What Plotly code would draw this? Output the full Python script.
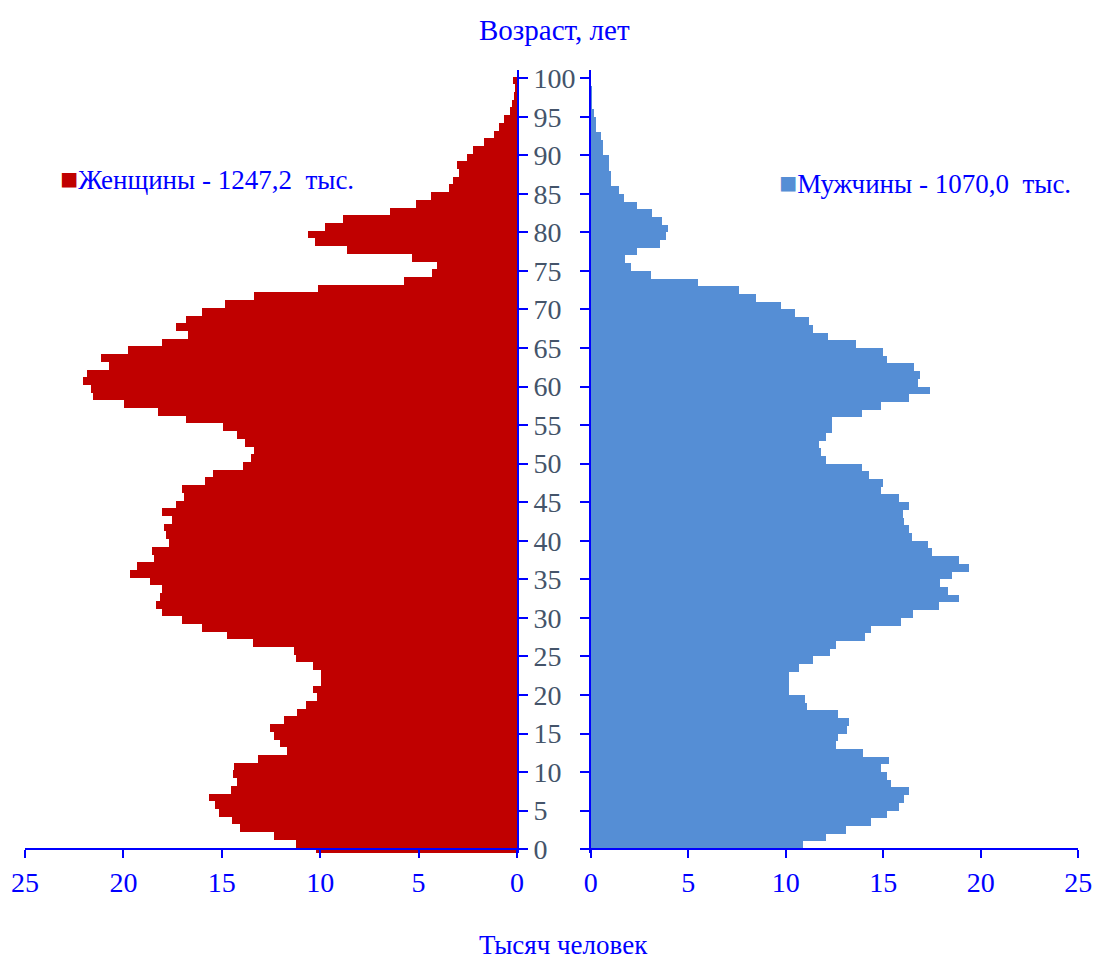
import plotly.graph_objects as go

ages = list(range(0, 101))

women = [10.23, 11.25, 12.36, 14.06, 14.47, 15.14, 15.35, 15.65, 14.55, 14.24,
         14.45, 14.36, 13.14, 11.67, 12.04, 12.36, 12.55, 11.84, 11.16, 10.74,
         10.15, 10.35, 9.96, 9.98, 10.35, 11.25, 11.33, 13.43, 14.75, 16.02,
         17.04, 18.06, 18.34, 18.14, 18.06, 18.63, 19.65, 19.33, 18.45, 18.53,
         17.67, 17.84, 17.94, 17.53, 18.04, 17.34, 16.94, 17.04, 15.84, 15.43,
         13.94, 13.53, 13.35, 13.84, 14.23, 14.96, 16.84, 18.22, 19.95, 21.53,
         21.65, 22.04, 21.83, 20.73, 21.14, 19.75, 18.04, 16.73, 17.34, 16.84,
         16.02, 14.84, 13.35, 10.13, 5.74, 4.34, 4.05, 5.34, 8.64, 10.25,
         10.64, 9.74, 8.82, 6.45, 5.13, 4.37, 3.44, 3.24, 2.95, 3.03,
         2.52, 2.25, 1.66, 1.15, 0.93, 0.64, 0.36, 0.24, 0.15, 0.10, 0.22]

men = [10.87, 12.07, 13.09, 14.37, 15.18, 15.79, 16.08, 16.31, 15.40, 15.18,
       14.89, 15.28, 13.98, 12.58, 12.67, 13.16, 13.26, 12.70, 11.08, 10.99,
       10.19, 10.19, 10.19, 10.68, 11.38, 12.27, 12.58, 14.08, 14.37, 15.90,
       16.51, 17.88, 18.89, 18.31, 17.91, 18.51, 19.40, 18.87, 17.50, 17.28,
       16.48, 16.31, 16.08, 16.00, 16.31, 15.79, 14.89, 14.97, 14.27, 13.90,
       12.07, 11.79, 11.69, 12.07, 12.37, 12.39, 13.90, 14.89, 16.31, 17.40,
       16.80, 16.89, 16.60, 15.18, 15.01, 13.59, 12.19, 11.38, 11.18, 10.49,
       9.78, 8.48, 7.59, 5.49, 3.08, 2.07, 1.76, 2.36, 3.55, 3.86,
       3.95, 3.66, 3.16, 2.36, 1.73, 1.45, 1.02, 1.02, 0.96, 0.96,
       0.65, 0.65, 0.53, 0.27, 0.27, 0.17, 0.07, 0.07, 0.05, 0.03, 0.02]

x_ticks = [0, 5, 10, 15, 20, 25]
y_ticks = list(range(0, 101, 5))

women_label = "Женщины - 1247,2\u00a0 тыс."
men_label = "Мужчины - 1070,0\u00a0 тыс."
y_title = "Возраст, лет"
x_title = "Тысяч человек"

RED = "#C00000"
BLUE_BAR = "#558ED5"
AXIS = "#0000FF"
YLAB = "#44546A"
FONT = "Liberation Serif"

OFF = 0  # body margin removed via post_script
W, H = 1096, 961


def fx(p):
    return (p - OFF) / W


fig = go.Figure()
fig.add_trace(go.Bar(x=women, y=ages, orientation="h", width=1, offset=-0.79,
                     marker=dict(color=RED, line=dict(width=0)),
                     xaxis="x", yaxis="y", name=women_label, showlegend=False))
fig.add_trace(go.Bar(x=men, y=ages, orientation="h", width=1, offset=0,
                     marker=dict(color=BLUE_BAR, line=dict(width=0)),
                     xaxis="x2", yaxis="y2", name=men_label, showlegend=False))

top_pg, bottom_pg = 70, 853
top, bottom_px = top_pg - OFF, bottom_pg - OFF
ppu = 7.71
y0 = -0.5
y1 = y0 + (bottom_px - top) / ppu
axis_pos = 0.5 / (y1 - y0)

xcommon = dict(tickvals=x_ticks, ticks="outside", ticklen=8, tickwidth=2,
               tickcolor=AXIS, showline=True, linecolor=AXIS, linewidth=2,
               showgrid=False, zeroline=False, fixedrange=True, automargin=False,
               ticklabelstandoff=0,
               tickfont=dict(family=FONT, size=28, color=AXIS),
               anchor="free", position=axis_pos)

fig.update_layout(
    width=W, height=H,
    margin=dict(l=0, r=0, t=top, b=H - bottom_px, autoexpand=False),
    paper_bgcolor="white", plot_bgcolor="white",
    bargap=0,
    xaxis=dict(domain=[fx(25), fx(517)], range=[25, 0], **xcommon),
    xaxis2=dict(domain=[fx(590.7), fx(1078.3)], range=[0, 25], **xcommon),
    yaxis=dict(range=[y0, y1], anchor="x", side="right", tickvals=y_ticks,
               ticks="outside", ticklen=9, tickwidth=2, tickcolor=AXIS,
               showline=True, linecolor=AXIS, linewidth=2, showgrid=False,
               zeroline=False, ticklabelstandoff=0, automargin=False,
               tickfont=dict(family=FONT, size=28, color=YLAB)),
    yaxis2=dict(matches="y", anchor="x2", side="left", tickvals=y_ticks,
                ticks="outside", ticklen=9, tickwidth=2, tickcolor=AXIS,
                showline=True, linecolor=AXIS, linewidth=2, showgrid=False,
                zeroline=False, showticklabels=False, automargin=False),
    showlegend=False,
)


def py(pg):
    return (bottom_px - (pg - OFF)) / (bottom_px - top)


ann = dict(xref="paper", yref="paper", showarrow=False, yanchor="middle")
fig.add_annotation(text=y_title, x=fx(554), y=py(30), xanchor="center",
                   font=dict(family=FONT, size=29, color=AXIS), **ann)
fig.add_annotation(text=x_title, x=fx(563), y=py(945), xanchor="center",
                   font=dict(family=FONT, size=27, color=AXIS), **ann)
fig.add_annotation(text=f'<span style="color:{RED};font-size:30px">■</span>' + women_label,
                   x=fx(58), y=py(178), xanchor="left",
                   font=dict(family=FONT, size=27, color=AXIS), **ann)
fig.add_annotation(text=f'<span style="color:{BLUE_BAR};font-size:30px">■</span>' + men_label,
                   x=fx(777), y=py(183), xanchor="left",
                   font=dict(family=FONT, size=27, color=AXIS), **ann)

fig.write_html("out.html",
               config={"displayModeBar": False, "staticPlot": True},
               post_script="document.body.style.margin='0';document.body.style.overflow='hidden';")
